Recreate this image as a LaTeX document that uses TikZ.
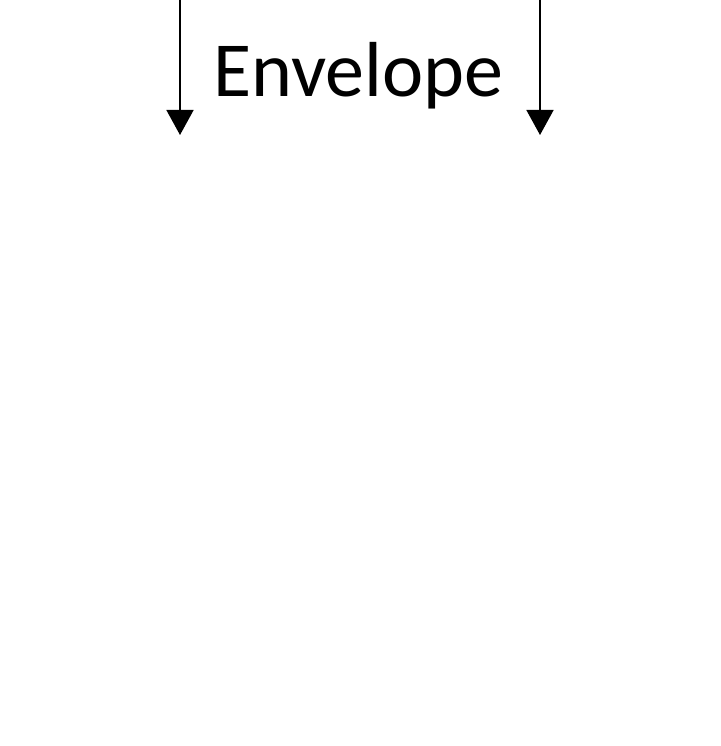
\documentclass[tikz,border=0pt]{standalone}
\usepackage{fontspec}
\setmainfont{Carlito}
\usetikzlibrary{arrows.meta}
\begin{document}
\begin{tikzpicture}[x=1pt,y=-1pt]
            \useasboundingbox (0,0) rectangle (720,746);
            % Envelope label
            \node[anchor=base, font=\fontsize{78}{94}\selectfont, inner sep=0pt] (env) at (358.5,97) {Envelope};
            % Arrows going down
            \coordinate (ltop) at (180,0);
            \coordinate (lend) at (180,135);
            \coordinate (rtop) at (540,0);
            \coordinate (rend) at (540,135);
            \draw[line width=1.6pt, -{Triangle[width=27pt,length=25pt]}] (ltop) -- (lend);
            \draw[line width=1.6pt, -{Triangle[width=27pt,length=25pt]}] (rtop) -- (rend);
        \end{tikzpicture}
\end{document}
